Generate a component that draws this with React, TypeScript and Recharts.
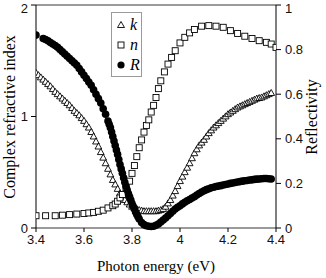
import { ScatterChart, Scatter, XAxis, YAxis, ReferenceLine } from 'recharts';

// ─── Data ─────────────────────────────────────────────────────────────────────

const kEnergy = [
  3.40, 3.41, 3.42, 3.43, 3.44, 3.45, 3.46, 3.47, 3.48, 3.49,
  3.50, 3.51, 3.52, 3.53, 3.54, 3.55, 3.56, 3.57, 3.58, 3.59,
  3.60, 3.61, 3.62, 3.63, 3.64, 3.65, 3.66, 3.67, 3.68, 3.69,
  3.70, 3.71, 3.72, 3.73, 3.74, 3.75, 3.76, 3.77, 3.78, 3.79,
  3.80, 3.81, 3.82, 3.83, 3.84, 3.85, 3.86, 3.87, 3.88, 3.89,
  3.90, 3.91, 3.92, 3.93, 3.94, 3.95, 3.96, 3.97, 3.98, 3.99,
  4.00, 4.01, 4.02, 4.03, 4.04, 4.05, 4.06, 4.07, 4.08, 4.09,
  4.10, 4.11, 4.12, 4.13, 4.14, 4.15, 4.16, 4.17, 4.18, 4.19,
  4.20, 4.21, 4.22, 4.23, 4.24, 4.25, 4.26, 4.27, 4.28, 4.29,
  4.30, 4.31, 4.32, 4.33, 4.34, 4.35, 4.36, 4.37, 4.38,
];
const kValue = [
  1.39, 1.37, 1.35, 1.33, 1.31, 1.29, 1.27, 1.245, 1.22, 1.20,
  1.18, 1.16, 1.14, 1.12, 1.10, 1.075, 1.05, 1.03, 1.01, 0.985,
  0.96, 0.93, 0.90, 0.86, 0.82, 0.775, 0.73, 0.68, 0.63, 0.58,
  0.53, 0.48, 0.43, 0.39, 0.35, 0.31, 0.28, 0.25, 0.23, 0.21,
  0.19, 0.18, 0.17, 0.16, 0.155, 0.15, 0.15, 0.15, 0.15, 0.15,
  0.15, 0.155, 0.16, 0.17, 0.19, 0.22, 0.25, 0.29, 0.33, 0.375,
  0.42, 0.46, 0.50, 0.54, 0.58, 0.625, 0.67, 0.705, 0.74, 0.765,
  0.79, 0.82, 0.85, 0.875, 0.90, 0.92, 0.94, 0.96, 0.98, 1.00,
  1.02, 1.035, 1.05, 1.065, 1.08, 1.09, 1.10, 1.11, 1.12, 1.13,
  1.14, 1.15, 1.16, 1.165, 1.17, 1.18, 1.19, 1.20, 1.21,
];

const nEnergy = [
  3.40, 3.44, 3.48, 3.51, 3.54, 3.57, 3.60, 3.62, 3.64, 3.66,
  3.68, 3.70, 3.72, 3.73, 3.74, 3.75, 3.76, 3.775, 3.79, 3.80,
  3.81, 3.82, 3.83, 3.84, 3.85, 3.86, 3.87, 3.88, 3.89, 3.90,
  3.91, 3.92, 3.935, 3.95, 3.965, 3.98, 4.00, 4.02, 4.04, 4.06,
  4.09, 4.12, 4.15, 4.18, 4.21, 4.24, 4.27, 4.30, 4.33, 4.36,
  4.38, 4.40,
];
const nValue = [
  0.11, 0.11, 0.11, 0.115, 0.12, 0.125, 0.13, 0.135, 0.14, 0.15,
  0.16, 0.18, 0.20, 0.215, 0.24, 0.27, 0.30, 0.36, 0.42, 0.49,
  0.56, 0.64, 0.72, 0.79, 0.86, 0.92, 0.97, 1.04, 1.10, 1.17,
  1.25, 1.32, 1.40, 1.47, 1.53, 1.59, 1.66, 1.71, 1.75, 1.78,
  1.81, 1.815, 1.81, 1.80, 1.77, 1.745, 1.72, 1.70, 1.68, 1.665,
  1.65, 1.62,
];

const rEnergy = [
  3.40, 3.43, 3.44, 3.45, 3.46, 3.47, 3.48, 3.49, 3.50, 3.51,
  3.52, 3.53, 3.54, 3.55, 3.56, 3.57, 3.58, 3.59, 3.60, 3.61,
  3.62, 3.63, 3.64, 3.65, 3.66, 3.67, 3.68, 3.69, 3.70, 3.705,
  3.71, 3.715, 3.72, 3.725, 3.73, 3.735, 3.74, 3.745, 3.75, 3.755,
  3.76, 3.765, 3.77, 3.775, 3.78, 3.785, 3.79, 3.795, 3.80, 3.805,
  3.81, 3.815, 3.82, 3.825, 3.83, 3.84, 3.85, 3.86, 3.87, 3.88,
  3.89, 3.90, 3.91, 3.92, 3.93, 3.94, 3.95, 3.96, 3.97, 3.98,
  3.99, 4.00, 4.01, 4.02, 4.03, 4.04, 4.05, 4.06, 4.07, 4.08,
  4.09, 4.10, 4.11, 4.12, 4.13, 4.14, 4.15, 4.16, 4.17, 4.18,
  4.19, 4.20, 4.21, 4.22, 4.23, 4.24, 4.25, 4.26, 4.27, 4.28,
  4.29, 4.30, 4.31, 4.32, 4.33, 4.34, 4.35, 4.36, 4.37, 4.38,
];
const rValue = [
  0.865, 0.85, 0.845, 0.84, 0.832, 0.825, 0.818, 0.81, 0.80, 0.79,
  0.78, 0.77, 0.76, 0.75, 0.74, 0.73, 0.715, 0.70, 0.685, 0.67,
  0.655, 0.64, 0.62, 0.60, 0.58, 0.56, 0.535, 0.51, 0.48, 0.465,
  0.45, 0.43, 0.41, 0.39, 0.37, 0.35, 0.33, 0.307, 0.285, 0.265,
  0.245, 0.225, 0.205, 0.187, 0.17, 0.155, 0.14, 0.125, 0.11, 0.097,
  0.085, 0.072, 0.06, 0.05, 0.04, 0.025, 0.015, 0.01, 0.008, 0.007,
  0.008, 0.012, 0.018, 0.027, 0.036, 0.045, 0.055, 0.065, 0.075, 0.085,
  0.093, 0.10, 0.108, 0.115, 0.122, 0.128, 0.134, 0.14, 0.148, 0.155,
  0.161, 0.167, 0.172, 0.176, 0.18, 0.183, 0.186, 0.188, 0.19, 0.193,
  0.195, 0.197, 0.2, 0.202, 0.204, 0.206, 0.208, 0.21, 0.212, 0.213,
  0.215, 0.216, 0.218, 0.219, 0.22, 0.221, 0.222, 0.222, 0.221, 0.22,
];

const xTicks = [3.4, 3.6, 3.8, 4.0, 4.2, 4.4];
const leftTicks = [0, 1, 2];
const rightTicks = [0, 0.2, 0.4, 0.6, 0.8, 1];

const toPoints = (es: number[], vs: number[]) => es.map((e, i) => ({ e, v: vs[i] }));

// ─── Styling ──────────────────────────────────────────────────────────────────

const SANS = '"Liberation Sans", Arial, sans-serif';
const SERIF = '"Liberation Serif", "Times New Roman", serif';
const FRAME_GRAY = '#9a9a9a';
const tickStyle = { fill: '#111', fontSize: 13, fontFamily: SANS };

// ─── Marker shapes ────────────────────────────────────────────────────────────

function Triangle({ cx, cy }: any) {
  return (
    <path
      d={`M${cx},${cy - 3.6} L${cx + 3.4},${cy + 2.4} L${cx - 3.4},${cy + 2.4} Z`}
      fill="#fff"
      stroke="#000"
      strokeWidth={0.9}
    />
  );
}

function Square({ cx, cy }: any) {
  return <rect x={cx - 3} y={cy - 3} width={6} height={6} fill="#fff" stroke="#000" strokeWidth={0.9} />;
}

function Dot({ cx, cy }: any) {
  return <circle cx={cx} cy={cy} r={3.8} fill="#000" />;
}

// ─── Legend box ───────────────────────────────────────────────────────────────

function LegendBox() {
  const rows = [
    { label: 'k', sym: <path d="M5,1.5 L8.5,7.5 L1.5,7.5 Z" fill="#fff" stroke="#000" strokeWidth={0.9} /> },
    { label: 'n', sym: <rect x={2} y={2} width={6} height={6} fill="#fff" stroke="#000" strokeWidth={0.9} /> },
    { label: 'R', sym: <circle cx={5} cy={5} r={3.6} fill="#000" /> },
  ];
  return (
    <div
      style={{
        position: 'absolute',
        left: 111,
        top: 12,
        width: 31,
        height: 65,
        border: `1px solid ${FRAME_GRAY}`,
        background: '#fff',
        padding: '2px 0 0 4px',
        boxSizing: 'border-box',
      }}
    >
      {rows.map((r) => (
        <div key={r.label} style={{ display: 'flex', alignItems: 'center', height: 20 }}>
          <svg width={10} height={10} style={{ marginRight: 4 }}>
            {r.sym}
          </svg>
          <span style={{ fontFamily: SERIF, fontStyle: 'italic', fontSize: 16, lineHeight: '16px' }}>{r.label}</span>
        </div>
      ))}
    </div>
  );
}

// ─── Main ─────────────────────────────────────────────────────────────────────

export default function App() {
  return (
    <div style={{ position: 'absolute', left: 0, top: 0, width: 326, height: 278, background: '#fff' }}>
      <ScatterChart width={326} height={278} margin={{ top: 5, right: 0, bottom: 0, left: 0 }}>
        <XAxis
          type="number"
          dataKey="e"
          domain={[3.4, 4.4]}
          ticks={xTicks}
          allowDataOverflow
          tickFormatter={(v: number) => String(Number(v.toFixed(1)))}
          tick={tickStyle}
          tickSize={4}
          tickMargin={3}
          height={50}
          axisLine={{ stroke: FRAME_GRAY, strokeWidth: 2 }}
          tickLine={{ stroke: '#000' }}
          label={{
            content: () => (
              <text x={156} y={271} textAnchor="middle" fontFamily={SERIF} fontSize={15} fill="#000">
                Photon energy (eV)
              </text>
            ),
          }}
        />
        <YAxis
          yAxisId="left"
          type="number"
          dataKey="v"
          domain={[0, 2]}
          ticks={leftTicks}
          tick={tickStyle}
          tickSize={5}
          tickMargin={3}
          width={36}
          axisLine={{ stroke: '#000' }}
          tickLine={{ stroke: '#000' }}
          label={{
            content: () => (
              <text
                x={15}
                y={117}
                transform="rotate(-90 15 117)"
                textAnchor="middle"
                fontFamily={SERIF}
                fontSize={16}
                fill="#000"
              >
                Complex refractive index
              </text>
            ),
          }}
        />
        <YAxis
          yAxisId="right"
          orientation="right"
          type="number"
          dataKey="v"
          domain={[0, 1]}
          ticks={rightTicks}
          tickFormatter={(v: number) => String(v)}
          tick={tickStyle}
          tickSize={5}
          tickMargin={4}
          width={50}
          axisLine={{ stroke: '#000' }}
          tickLine={{ stroke: '#000' }}
          label={{
            content: () => (
              <text
                x={317}
                y={117}
                transform="rotate(-90 317 117)"
                textAnchor="middle"
                fontFamily={SERIF}
                fontSize={16}
                fill="#000"
              >
                Reflectivity
              </text>
            ),
          }}
        />
        <ReferenceLine yAxisId="left" y={2} stroke={FRAME_GRAY} strokeWidth={2} />
        <Scatter
          yAxisId="left"
          data={toPoints(kEnergy, kValue)}
          shape={Triangle}
          isAnimationActive={false}
        />
        <Scatter
          yAxisId="left"
          data={toPoints(nEnergy, nValue)}
          shape={Square}
          isAnimationActive={false}
        />
        <Scatter
          yAxisId="right"
          data={toPoints(rEnergy, rValue)}
          shape={Dot}
          isAnimationActive={false}
        />
      </ScatterChart>
      <LegendBox />
    </div>
  );
}
